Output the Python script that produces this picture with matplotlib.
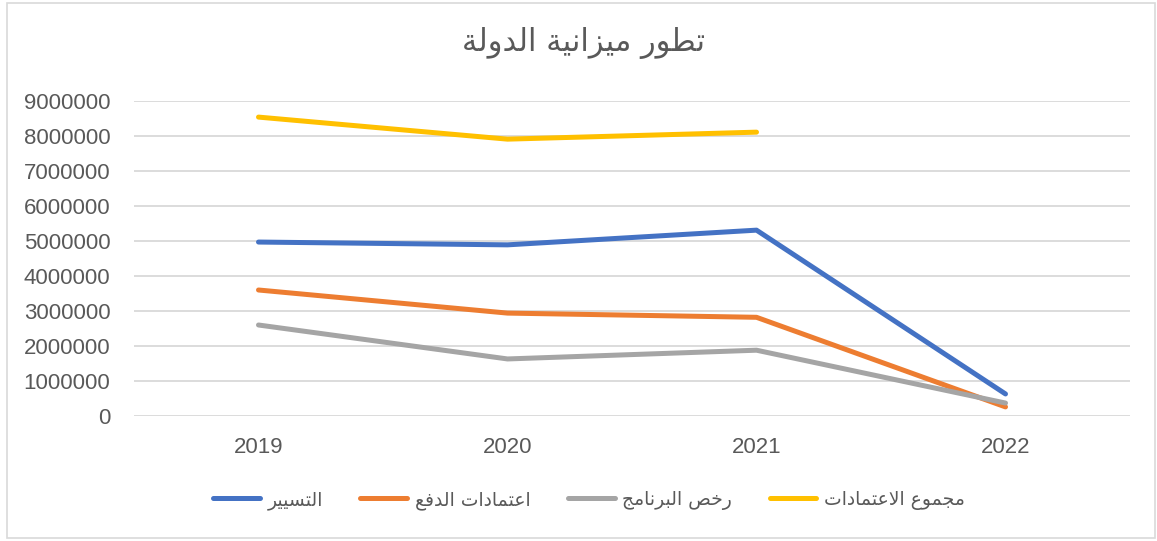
import matplotlib
matplotlib.use('Agg')
import matplotlib.pyplot as plt
from matplotlib.patches import Rectangle

# data
years = ['2019', '2020', '2021', '2022']
tasyir = [4970000, 4890000, 5310000, 630000]
itimadat_dafaa = [3600000, 2940000, 2820000, 260000]
rukhas_barnamaj = [2600000, 1630000, 1880000, 370000]
majmou_itimadat = [8540000, 7910000, 8110000]

title_text = 'تطور ميزانية الدولة'
series_names = ['التسيير', 'اعتمادات الدفع', 'رخص البرنامج', 'مجموع الاعتمادات']
colors = ['#4472C4', '#ED7D31', '#A5A5A5', '#FFC000']

# arabic presentation forms: isolated, final, initial, medial
FORMS = {
    'ا': ('\uFE8D', '\uFE8E', None, None),
    'ب': ('\uFE8F', '\uFE90', '\uFE91', '\uFE92'),
    'ة': ('\uFE93', '\uFE94', None, None),
    'ت': ('\uFE95', '\uFE96', '\uFE97', '\uFE98'),
    'ج': ('\uFE9D', '\uFE9E', '\uFE9F', '\uFEA0'),
    'خ': ('\uFEA5', '\uFEA6', '\uFEA7', '\uFEA8'),
    'د': ('\uFEA9', '\uFEAA', None, None),
    'ر': ('\uFEAD', '\uFEAE', None, None),
    'ز': ('\uFEAF', '\uFEB0', None, None),
    'س': ('\uFEB1', '\uFEB2', '\uFEB3', '\uFEB4'),
    'ص': ('\uFEB9', '\uFEBA', '\uFEBB', '\uFEBC'),
    'ط': ('\uFEC1', '\uFEC2', '\uFEC3', '\uFEC4'),
    'ع': ('\uFEC9', '\uFECA', '\uFECB', '\uFECC'),
    'ف': ('\uFED1', '\uFED2', '\uFED3', '\uFED4'),
    'ل': ('\uFEDD', '\uFEDE', '\uFEDF', '\uFEE0'),
    'م': ('\uFEE1', '\uFEE2', '\uFEE3', '\uFEE4'),
    'ن': ('\uFEE5', '\uFEE6', '\uFEE7', '\uFEE8'),
    'و': ('\uFEED', '\uFEEE', None, None),
    'ي': ('\uFEF1', '\uFEF2', '\uFEF3', '\uFEF4'),
}


def dual(c):
    return c in FORMS and FORMS[c][2] is not None


def shape(text):
    '''shape arabic letters and reverse to visual order'''
    out = []
    i = 0
    n = len(text)
    while i < n:
        c = text[i]
        if c not in FORMS:
            out.append(c)
            i += 1
            continue
        prev = text[i - 1] if i > 0 else ''
        join_prev = dual(prev)
        # lam-alef ligature
        if c == 'ل' and i + 1 < n and text[i + 1] == 'ا':
            out.append('\uFEFC' if join_prev else '\uFEFB')
            i += 2
            continue
        nxt = text[i + 1] if i + 1 < n else ''
        join_next = dual(c) and nxt in FORMS
        iso, fin, ini, med = FORMS[c]
        if join_prev and join_next:
            out.append(med)
        elif join_prev:
            out.append(fin)
        elif join_next:
            out.append(ini)
        else:
            out.append(iso)
        i += 1
    return ''.join(out)[::-1]


fig = plt.figure(figsize=(11.57, 5.41), dpi=100)
ax = fig.add_axes([134 / 1157, 1 - 416 / 541, (1130 - 134) / 1157, (416 - 101) / 541])

all_series = [tasyir, itimadat_dafaa, rukhas_barnamaj, majmou_itimadat]
for vals, name, col in zip(all_series, series_names, colors):
    ax.plot(range(len(vals)), vals, color=col, linewidth=3.6,
            solid_capstyle='round', solid_joinstyle='round', label=shape(name))

ax.set_xlim(-0.5, 3.5)
ax.set_ylim(0, 9000000)
ax.set_yticks(range(0, 9000001, 1000000))
ax.set_yticklabels([str(v) for v in range(0, 9000001, 1000000)])
ax.set_xticks(range(len(years)))
ax.set_xticklabels(years)
ax.grid(axis='y', color='#d9d9d9', linewidth=1.3)
ax.set_axisbelow(True)
for s in ax.spines.values():
    s.set_visible(False)
ax.tick_params(length=0, labelsize=16, labelcolor='#595959')
ax.tick_params(axis='y', pad=17)
ax.tick_params(axis='x', pad=15)
for lbl in ax.get_xticklabels() + ax.get_yticklabels():
    lbl.set_family('Liberation Sans')

fig.text(584 / 1157, 1 - 43 / 541, shape(title_text), ha='center', va='center',
         fontsize=22, color='#595959', family='DejaVu Sans')

leg = fig.legend(loc='center', bbox_to_anchor=(589 / 1157, 1 - 500 / 541), ncol=4,
                 frameon=False, fontsize=13.5, handlelength=2.5, columnspacing=2.0,
                 handletextpad=0.4)
for t in leg.get_texts():
    t.set_color('#595959')
    t.set_family('DejaVu Sans')

fig.patches.append(Rectangle((7 / 1157, 3 / 541), 1148 / 1157, 535 / 541,
                             transform=fig.transFigure, fill=False,
                             edgecolor='#d9d9d9', linewidth=1.2))

fig.savefig('out.png', dpi=100)
